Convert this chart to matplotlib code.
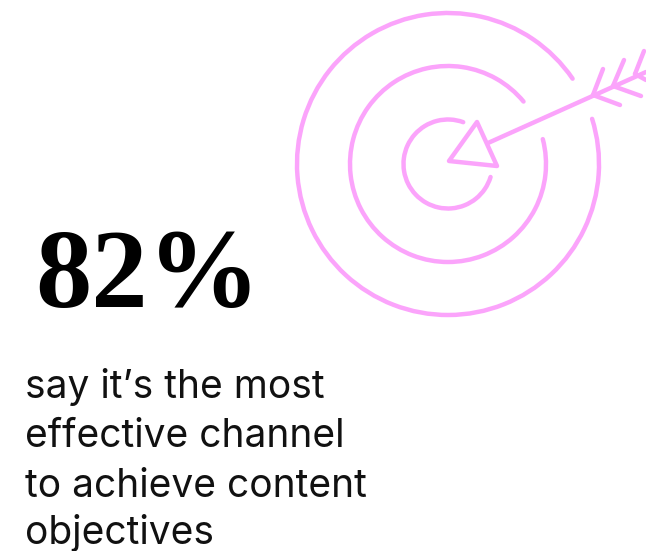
import matplotlib
matplotlib.use("Agg")
import matplotlib.pyplot as plt
from matplotlib.patches import Arc, Polygon

W, H = 646, 551
PINK = "#fba4fb"
LW = 3.2

# target rings: radius, gap upper angle, gap lower angle (degrees)
ring_radius = [151, 98, 44.5]
ring_start = [34.4, 39.6, 70]
ring_end = [17.4, 14.7, -17]
center = (448, 164)

# arrow head and shaft, picture pixels
head_x = [477, 449, 497]
head_y = [122, 161, 166]
shaft_x = [488, 646]
shaft_y = [143, 72]

# fletching barbs as (from, to) pairs
barb_from = [(593, 95), (593, 95), (613, 86), (613, 86), (635, 74), (635, 74)]
barb_to = [(603, 69), (620, 105), (624, 60), (641, 96), (644, 51), (646, 80)]

big_number = "82%"
body_lines = ["say it\u2019s the most", "effective channel", "to achieve content", "objectives"]
body_baselines = [398, 447, 497, 544]

fig = plt.figure(figsize=(W / 100, H / 100), dpi=100)
ax = fig.add_axes([0, 0, 1, 1])
ax.set_xlim(0, W)
ax.set_ylim(H, 0)
ax.axis("off")

for r, a0, a1 in zip(ring_radius, ring_start, ring_end):
    # y axis is flipped so angles run the other way round
    ax.add_patch(Arc(center, 2 * r, 2 * r, theta1=-(a1 + 360), theta2=-a0,
                     color=PINK, lw=LW, capstyle="round"))

ax.add_patch(Polygon(list(zip(head_x, head_y)), closed=True, fill=False,
                     edgecolor=PINK, lw=LW, joinstyle="round"))
ax.plot(shaft_x, shaft_y, color=PINK, lw=LW, solid_capstyle="round")
for p, q in zip(barb_from, barb_to):
    ax.plot([p[0], q[0]], [p[1], q[1]], color=PINK, lw=LW, solid_capstyle="round")

ax.text(35, 307, big_number, family="Liberation Serif", weight="bold",
        fontsize=81, color="black", va="baseline", ha="left")

for line, y in zip(body_lines, body_baselines):
    ax.text(25, y, line, family="Inter", fontsize=28, color="#111111",
            va="baseline", ha="left")

fig.savefig("out.png", dpi=100)
